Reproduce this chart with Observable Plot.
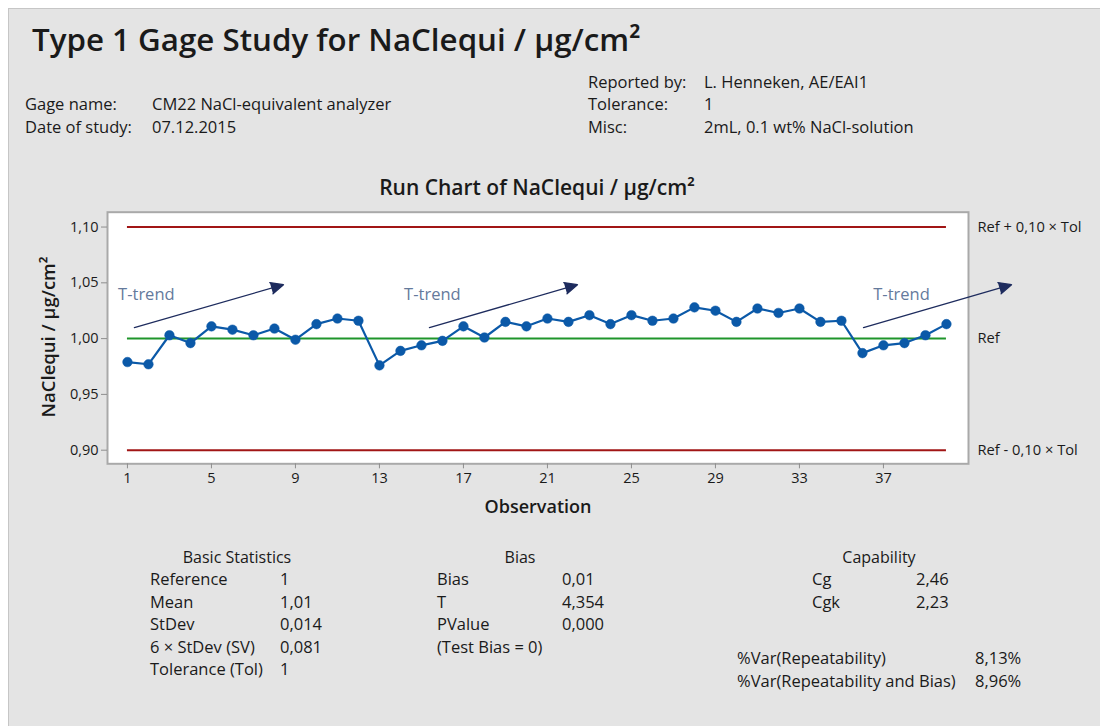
<!DOCTYPE html>
<html><head><meta charset="utf-8">
<script src="https://cdn.jsdelivr.net/npm/d3@7"></script>
<script src="https://cdn.jsdelivr.net/npm/@observablehq/plot@0.6"></script>
<style>
body{margin:0;width:1100px;height:726px;background:#fff;position:relative;overflow:hidden;font-family:"Open Sans","Noto Sans",sans-serif;color:#1a1a1a}
#bg{position:absolute;left:8px;top:8px;width:1092px;height:718px;background:#e4e4e4;border-left:1px solid #c6c6c6;border-top:1px solid #c6c6c6;box-sizing:border-box}
.t{position:absolute;white-space:nowrap;line-height:20px;height:20px}
#chart{position:absolute;left:0;top:190px}
</style></head><body><div id="bg"></div><div id="chart"></div>
<script>
// ---- data ----
const observations = [1,2,3,4,5,6,7,8,9,10,11,12,13,14,15,16,17,18,19,20,21,22,23,24,25,26,27,28,29,30,31,32,33,34,35,36,37,38,39,40];
const measurements = [0.979,0.977,1.003,0.996,1.011,1.008,1.003,1.009,0.999,1.013,1.018,1.016,0.976,0.989,0.994,0.998,1.011,1.001,1.015,1.011,
                      1.018,1.015,1.021,1.013,1.021,1.016,1.018,1.028,1.025,1.015,1.027,1.023,1.027,1.015,1.016,0.987,0.994,0.996,1.003,1.013];
const xTicks = [1,5,9,13,17,21,25,29,33,37];
const yTicks = [0.90,0.95,1.00,1.05,1.10];
const referenceValue = [1.00];
const limitValues = [1.10, 0.90];
const rightLabelValues = [1.10, 1.00, 0.90];
const rightLabels = ["Ref + 0,10 × Tol", "Ref", "Ref - 0,10 × Tol"];
const trendX1 = [1.33, 15.38, 36.05];
const trendY1 = [1.0099, 1.0099, 1.0099];
const trendX2 = [8.43, 22.43, 43.1];
const trendY2 = [1.0483, 1.0483, 1.0483];
const trendLabelX = [1.9, 15.52, 37.86];
const trendLabelY = [1.0394, 1.0394, 1.0394];
const trendLabel = "T-trend";

const basicLabels = ["Reference","Mean","StDev","6 × StDev (SV)","Tolerance (Tol)"];
const basicValues = ["1","1,01","0,014","0,081","1"];
const biasLabels = ["Bias","T","PValue","(Test Bias = 0)"];
const biasValues = ["0,01","4,354","0,000",""];
const capLabels = ["Cg","Cgk"];
const capValues = ["2,46","2,23"];
const varLabels = ["%Var(Repeatability)","%Var(Repeatability and Bias)"];
const varValues = ["8,13%","8,96%"];

// ---- helpers ----
function put(text, x, y, opts = {}) {
  const d = document.createElement("div");
  d.className = "t";
  d.textContent = text;
  const fs = opts.size || 16.5;
  const lh = opts.lh || 22;
  d.style.fontSize = fs + "px";
  d.style.lineHeight = lh + "px";
  d.style.height = lh + "px";
  d.style.top = (y - lh / 2) + "px";
  d.style.left = x + "px";
  if (opts.weight) d.style.fontWeight = opts.weight;
  if (opts.ls !== undefined) d.style.letterSpacing = opts.ls + "px";
  if (opts.anchor === "middle") d.style.transform = "translateX(-50%)";
  if (opts.rotate) { d.style.transform = "translate(-50%,0) rotate(-90deg)"; d.style.transformOrigin = "50% 50%"; }
  if (opts.color) d.style.color = opts.color;
  document.body.appendChild(d);
  return d;
}

// header
put("Type 1 Gage Study for NaClequi / µg/cm²", 32, 39, {size: 31.3, weight: 600, lh: 44});
put("Gage name:", 25, 104);
put("CM22 NaCl-equivalent analyzer", 152, 104);
put("Date of study:", 25, 127);
put("07.12.2015", 152, 127);
put("Reported by:", 588, 82);
put("L. Henneken, AE/EAI1", 704, 82);
put("Tolerance:", 588, 104);
put("1", 704, 104);
put("Misc:", 588, 127);
put("2mL, 0.1 wt% NaCl-solution", 704, 127);
put("Run Chart of NaClequi / µg/cm²", 537, 187, {size: 21, weight: 600, anchor: "middle", lh: 28});

// axis titles
put("NaClequi / µg/cm²", 48, 337, {size: 18.5, weight: 600, rotate: true, lh: 24});
put("Observation", 538, 506, {size: 18, weight: 600, anchor: "middle", lh: 24});

// statistics
const rowY = [579, 602, 624, 647, 669];
put("Basic Statistics", 237, 557, {anchor: "middle", size: 16});
basicLabels.forEach((s, i) => { put(s, 150, rowY[i]); put(basicValues[i], 280, rowY[i]); });
put("Bias", 520, 557, {anchor: "middle", size: 16});
biasLabels.forEach((s, i) => { put(s, 437, rowY[i]); if (biasValues[i]) put(biasValues[i], 562, rowY[i]); });
put("Capability", 879, 557, {anchor: "middle", size: 16});
capLabels.forEach((s, i) => { put(s, 812, rowY[i]); put(capValues[i], 916, rowY[i]); });
const varY = [658, 681];
varLabels.forEach((s, i) => { put(s, 737, varY[i]); put(varValues[i], 975, varY[i]); });

// ---- chart ----
const rows = observations.map((o, i) => ({obs: o, value: measurements[i]}));
const trends = trendX1.map((x, i) => ({x1: x, y1: trendY1[i], x2: trendX2[i], y2: trendY2[i]}));
const trendTexts = trendLabelX.map((x, i) => ({x, y: trendLabelY[i], text: trendLabel}));
const rightRows = rightLabelValues.map((v, i) => ({y: v, text: rightLabels[i]}));
const comma = d => d.toFixed(2).replace(".", ",");
const blue = "#0b59a8";
const navy = "#1e2c5e";

const chart = Plot.plot({
  width: 1100,
  height: 340,
  marginLeft: 107, marginRight: 132, marginTop: 21.7, marginBottom: 66.7,
  style: {background: "transparent", fontFamily: "'Open Sans','Noto Sans',sans-serif", fontSize: "14.5px", color: "#1a1a1a", overflow: "visible"},
  x: {domain: [0.05, 41.05]},
  y: {domain: [0.8878, 1.1133]},
  marks: [
    Plot.frame({fill: "#ffffff", stroke: "#a9a9a9", strokeWidth: 2}),
    Plot.axisY({ticks: yTicks, tickFormat: comma, tickSize: 6, tickPadding: 3, stroke: "#8e8e8e", label: null, fontSize: 14.5}),
    Plot.axisX({ticks: xTicks, tickSize: 5, tickPadding: 4, stroke: "#8e8e8e", label: null, fontSize: 14.5}),
    Plot.ruleY(limitValues, {x1: observations[0], x2: observations[observations.length - 1], stroke: "#a11515", strokeWidth: 2}),
    Plot.ruleY(referenceValue, {x1: observations[0], x2: observations[observations.length - 1], stroke: "#1f952b", strokeWidth: 2}),
    Plot.text(rightRows, {y: "y", text: "text", frameAnchor: "right", textAnchor: "start", dx: 9, fontSize: 14.7, fill: "#1a1a1a"}),
    Plot.arrow(trends, {x1: "x1", y1: "y1", x2: "x2", y2: "y2", stroke: navy, strokeWidth: 1.3, headLength: 16, headAngle: 50}),
    Plot.text(trendTexts, {x: "x", y: "y", text: "text", fill: "#647a9c", fontSize: 16.5}),
    Plot.line(rows, {x: "obs", y: "value", stroke: blue, strokeWidth: 2.2}),
    Plot.dot(rows, {x: "obs", y: "value", r: 4.8, fill: blue, stroke: blue, strokeWidth: 0.5})
  ]
});
// filled arrowheads (the head subpath closes into a triangle when filled)
d3.select(chart).selectAll('g[aria-label="arrow"] path').attr("fill", navy).attr("stroke-linejoin", "miter");
document.getElementById("chart").appendChild(chart);
</script>
</body></html>
